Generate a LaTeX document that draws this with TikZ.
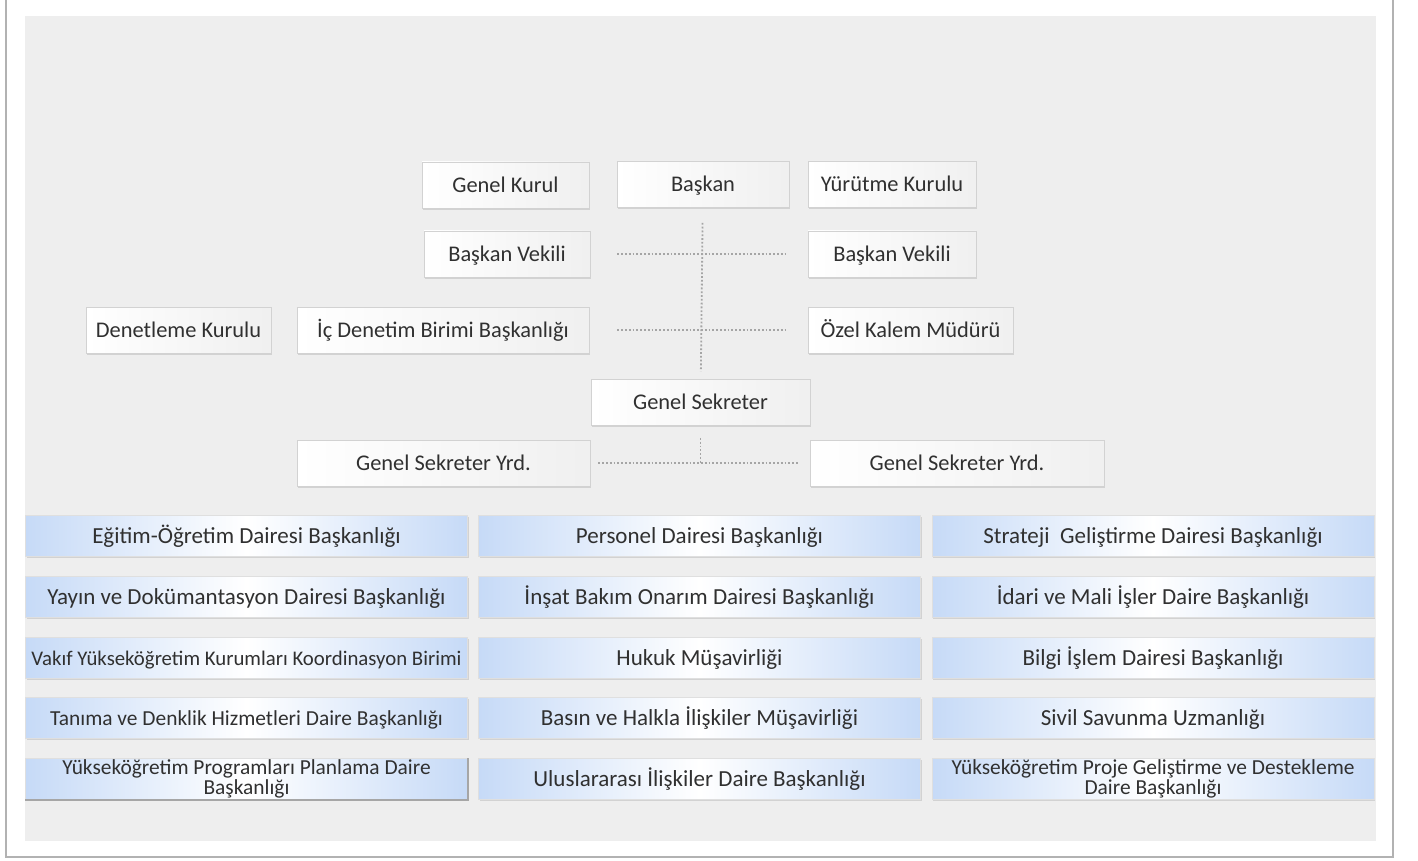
\documentclass[tikz,border=0pt]{standalone}
\usepackage{fontspec}
\setmainfont{Carlito}
\usetikzlibrary{shadows}
\definecolor{zemin}{HTML}{EEEEEE}
\definecolor{yazi}{HTML}{303030}
\definecolor{mavi}{HTML}{C6DAF7}
\definecolor{cizgi}{HTML}{A5A5A5}

\begin{document}
\begin{tikzpicture}[x=0.5pt,y=-0.5pt,
  makam/.style={draw=gray!35, left color=white, right color=gray!12, text=yazi,
    minimum height=23pt, inner sep=0pt, text height=8.2pt, text depth=1pt,
    font=\fontsize{11.2}{12}\selectfont,
    drop shadow={shadow xshift=0.6pt, shadow yshift=-0.8pt, opacity=0.25}},
  birim/.style={draw=gray!25, left color=mavi, right color=mavi, middle color=white,
    text=yazi, minimum width=221pt, minimum height=20.5pt, inner sep=0pt, align=center,
    text height=8.4pt, text depth=1pt, font=\fontsize{11.5}{12}\selectfont,
    drop shadow={shadow xshift=0.6pt, shadow yshift=-0.8pt, opacity=0.25}},
  ikisatir/.style={text height=, text depth=, font=\fontsize{10.7}{9}\selectfont},
  bag/.style={draw=cizgi, densely dotted, line width=0.9pt}]

% cerceve
\useasboundingbox (0,0) rectangle (1418,861);
\fill[white] (0,0) rectangle (1418,861);
\draw[gray!60, line width=1.2pt] (6,0) -- (6,857) -- (1393,857) -- (1393,0);
\fill[zemin] (25,16) rectangle (1376,841);

% ust yonetim
\node[makam, minimum width=83.5pt] (genkurul) at (505.5,185) {Genel Kurul};
\node[makam, minimum width=86pt] (baskan) at (703,184.5) {Başkan};
\node[makam, minimum width=84pt] (yurutme) at (892,184.5) {Yürütme Kurulu};
\node[makam, minimum width=83pt] (bvsol) at (507,254) {Başkan Vekili};
\node[makam, minimum width=84pt] (bvsag) at (892,254) {Başkan Vekili};
\node[makam, minimum width=92.5pt] (denetleme) at (178.5,330) {Denetleme Kurulu};
\node[makam, minimum width=146pt] (icdenetim) at (443,330) {İç Denetim Birimi Başkanlığı};
\node[makam, minimum width=102.5pt] (ozelkalem) at (910.5,330) {Özel Kalem Müdürü};
\node[makam, minimum width=109.5pt] (gensek) at (700.5,402.5) {Genel Sekreter};
\node[makam, minimum width=146.5pt] (gsysol) at (443.5,463) {Genel Sekreter Yrd.};
\node[makam, minimum width=147pt] (gsysag) at (957,463) {Genel Sekreter Yrd.};

% baglantilar
\draw[bag, shorten <=7.5pt, shorten >=4pt] (baskan) -- (gensek);
\draw[bag, shorten <=13.5pt, shorten >=10.5pt] (bvsol) -- (bvsag);
\draw[bag, shorten <=14pt, shorten >=10.5pt] (icdenetim) -- (ozelkalem);
\coordinate (kesisim) at (gensek |- gsysol);
\draw[bag, shorten <=6pt] (gensek) -- (kesisim);
\draw[bag, shorten <=4pt, shorten >=5pt] (gsysol) -- (gsysag);

% daire baskanliklari
\foreach \y/\sol/\orta/\sag [count=\i] in {
  536/{Eğitim-Öğretim Dairesi Başkanlığı}/{Personel Dairesi Başkanlığı}/{Strateji\ \ Geliştirme Dairesi Başkanlığı},
  597/{Yayın ve Dokümantasyon Dairesi Başkanlığı}/{İnşat Bakım Onarım Dairesi Başkanlığı}/{İdari ve Mali İşler Daire Başkanlığı},
  658/{\fontsize{10.4}{12}\selectfont Vakıf Yükseköğretim Kurumları Koordinasyon Birimi}/{Hukuk Müşavirliği}/{Bilgi İşlem Dairesi Başkanlığı},
  718/{\fontsize{10.7}{12}\selectfont Tanıma ve Denklik Hizmetleri Daire Başkanlığı}/{Basın ve Halkla İlişkiler Müşavirliği}/{Sivil Savunma Uzmanlığı}}
{
  \node[birim] (sol\i) at (246.5,\y) {\sol};
  \node[birim] (orta\i) at (699.5,\y) {\orta};
  \node[birim] (sag\i) at (1153,\y) {\sag};
}
\node[birim, ikisatir] (sol5) at (246.5,779) {Yükseköğretim Programları Planlama Daire\\Başkanlığı};
\node[birim] (orta5) at (699.5,779) {Uluslararası İlişkiler Daire Başkanlığı};
\node[birim, ikisatir] (sag5) at (1153,779) {Yükseköğretim Proje Geliştirme ve Destekleme\\Daire Başkanlığı};
\draw[gray!70, line width=0.8pt] (sol5.north east) -- (sol5.south east) -- (sol5.south west);
\end{tikzpicture}
\end{document}
